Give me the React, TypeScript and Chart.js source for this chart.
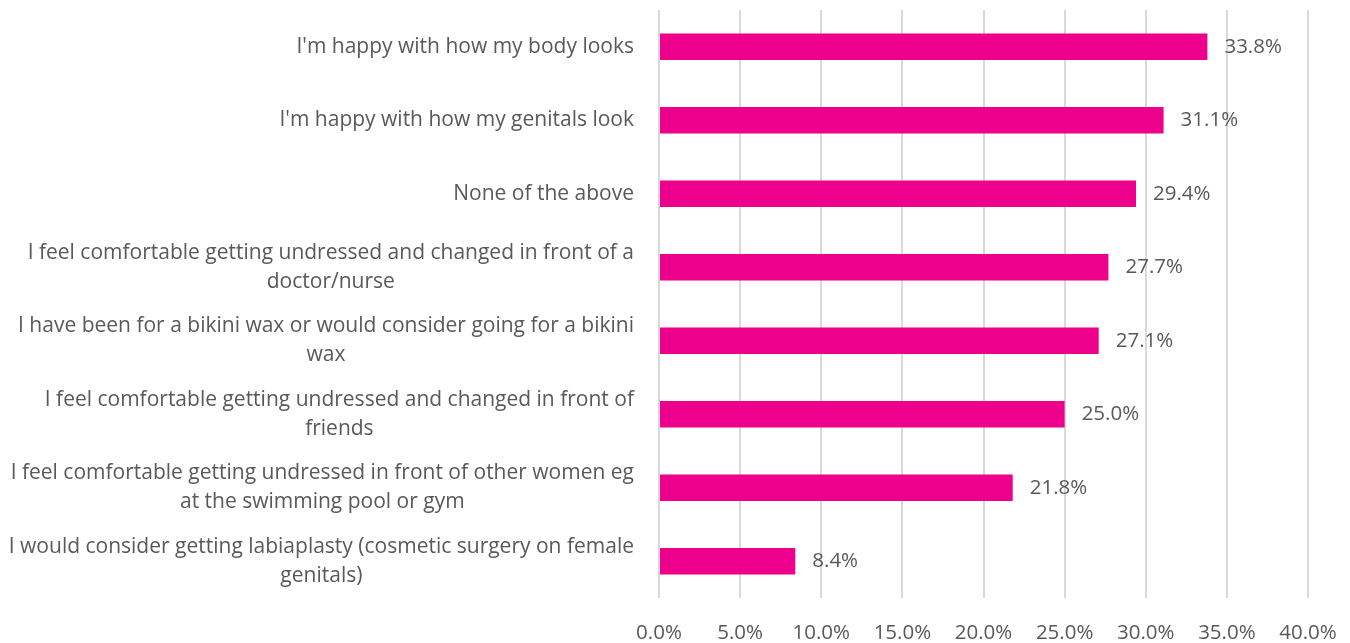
import React, { useEffect, useRef } from "react";
import { Chart, registerables } from "chart.js";

Chart.register(...registerables);

const categories: string[][] = [
  ["I'm happy with how my body looks"],
  ["I'm happy with how my genitals look"],
  ["None of the above"],
  ["I feel comfortable getting undressed and changed in front of a", "doctor/nurse"],
  ["I have been for a bikini wax or would consider going for a bikini", "wax"],
  ["I feel comfortable getting undressed and changed in front of", "friends"],
  ["I feel comfortable getting undressed in front of other women eg", "at the swimming pool or gym"],
  ["I would consider getting labiaplasty (cosmetic surgery on female", "genitals)"],
];
const values: number[] = [33.8, 31.1, 29.4, 27.7, 27.1, 25.0, 21.8, 8.4];

const FONT = "'Open Sans'";
const CAT_FONT_SIZE = 21;
const NUM_FONT_SIZE = 20.5;
const TEXT_COLOR = "#595959";
const BAR_COLOR = "#EC008C";

const labelPlugin = {
  id: "customLabels",
  afterDraw(chart: any) {
    const { ctx, chartArea } = chart;
    const y = chart.scales.y;
    const x = chart.scales.x;
    ctx.save();
    ctx.fillStyle = TEXT_COLOR;
    ctx.textBaseline = "middle";
    const lh = 29;
    categories.forEach((lines, i) => {
      const cy = y.getPixelForValue(i);
      ctx.font = `${CAT_FONT_SIZE}px ${FONT}`;
      const maxW = Math.max(...lines.map((l) => ctx.measureText(l).width));
      const cx = chartArea.left - 25 - maxW / 2;
      ctx.textAlign = "center";
      lines.forEach((l, j) => {
        ctx.fillText(l, cx, cy - ((lines.length - 1) * lh) / 2 + j * lh);
      });
      ctx.font = `${NUM_FONT_SIZE}px ${FONT}`;
      ctx.textAlign = "left";
      const xe = x.getPixelForValue(values[i]);
      ctx.fillText(values[i].toFixed(1) + "%", xe + 17, cy);
    });
    ctx.restore();
  },
};

export default function App() {
  const ref = useRef<HTMLCanvasElement>(null);
  useEffect(() => {
    if (!ref.current) return;
    const chart = new Chart(ref.current, {
      type: "bar",
      data: {
        labels: categories.map((c) => c.join(" ")),
        datasets: [
          {
            data: values,
            backgroundColor: BAR_COLOR,
            categoryPercentage: 1,
            barPercentage: 0.36,
          },
        ],
      },
      options: {
        indexAxis: "y",
        animation: false,
        responsive: true,
        maintainAspectRatio: false,
        layout: { padding: { left: 659, right: 42, top: 10, bottom: 0 } },
        plugins: { legend: { display: false }, tooltip: { enabled: false } },
        scales: {
          x: {
            min: 0,
            max: 40,
            afterFit: (scale: any) => {
              scale.height = 45;
              scale.paddingLeft = 0;
              scale.paddingRight = 0;
            },
            ticks: {
              stepSize: 5,
              callback: (v: any) => Number(v).toFixed(1) + "%",
              color: TEXT_COLOR,
              font: { family: FONT, size: NUM_FONT_SIZE },
              padding: 23,
            },
            grid: { color: "#D9D9D9", lineWidth: 2, drawTicks: false },
            border: { display: false },
          },
          y: {
            ticks: { display: false },
            grid: { display: false, drawTicks: false },
            border: { display: false },
          },
        },
      },
      plugins: [labelPlugin],
    });
    return () => chart.destroy();
  }, []);
  return (
    <div style={{ position: "absolute", left: 0, top: 0, width: 1350, height: 643, background: "#fff" }}>
      <canvas ref={ref} />
    </div>
  );
}
